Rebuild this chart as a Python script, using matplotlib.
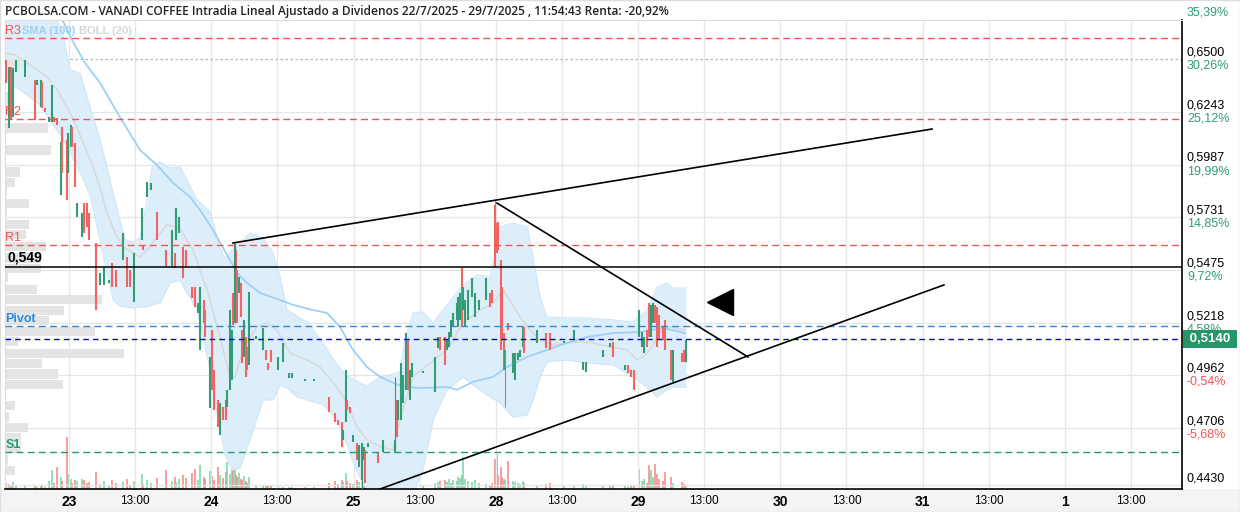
import matplotlib
matplotlib.use("Agg")
import matplotlib.pyplot as plt
from matplotlib.patches import Rectangle
import numpy as np

# ---- data (x = trading-session index, 1 = day 23) ----
candle_t = [
    0.556, 0.577, 0.592, 0.606, 0.627, 0.690, 0.761, 0.775, 0.803, 0.810,
    0.831, 0.859, 0.880, 0.894, 0.915, 0.944, 0.951, 0.986, 0.993, 1.014,
    1.021, 1.042, 1.056, 1.092, 1.106, 1.127, 1.141, 1.190, 1.218, 1.246,
    1.282, 1.303, 1.331, 1.380, 1.408, 1.430, 1.458, 1.514, 1.521, 1.549,
    1.577, 1.620, 1.683, 1.725, 1.746, 1.753, 1.775, 1.803, 1.824, 1.866,
    1.887, 1.908, 1.923, 1.951, 1.958, 1.993, 2.007, 2.021, 2.049, 2.063,
    2.084, 2.106, 2.113, 2.134, 2.148, 2.155, 2.169, 2.176, 2.183, 2.197,
    2.211, 2.218, 2.232, 2.246, 2.253, 2.268, 2.317, 2.366, 2.387, 2.401,
    2.422, 2.472, 2.507, 2.549, 2.570, 2.655, 2.725, 2.824, 2.866, 2.887,
    2.915, 2.922, 2.944, 2.951, 2.972, 2.993, 3.021, 3.035, 3.056, 3.070,
    3.077, 3.098, 3.169, 3.204, 3.289, 3.303, 3.310, 3.331, 3.345, 3.366,
    3.380, 3.394, 3.408, 3.486, 3.570, 3.591, 3.605, 3.641, 3.655, 3.669,
    3.683, 3.697, 3.725, 3.732, 3.746, 3.760, 3.767, 3.781, 3.803, 3.831,
    3.852, 3.880, 3.929, 3.958, 3.972, 3.993, 4.007, 4.014, 4.035, 4.042,
    4.056, 4.063, 4.084, 4.120, 4.134, 4.155, 4.169, 4.190, 4.197, 4.289,
    4.352, 4.380, 4.479, 4.549, 4.613, 4.634, 4.753, 4.803, 4.824, 4.908,
    4.930, 4.951, 4.972, 5.007, 5.028, 5.042, 5.063, 5.077, 5.092, 5.106,
    5.120, 5.134, 5.148, 5.176, 5.190, 5.232, 5.246, 5.310, 5.324, 5.338]

candle_open = [
    0.6495, 0.6165, 0.6461, 0.6218, 0.6437, 0.6413, 0.6398, 0.6374, 0.6267, 0.6388,
    0.6262, 0.6194, 0.6194, 0.6218, 0.6214, 0.5839, 0.6170, 0.6107, 0.5946, 0.6073,
    0.6170, 0.6092, 0.5732, 0.5635, 0.5800, 0.5800, 0.5752, 0.5606, 0.5402, 0.5402,
    0.5412, 0.5509, 0.5475, 0.5523, 0.5538, 0.5475, 0.5319, 0.5621, 0.5596, 0.5830,
    0.5864, 0.5757, 0.5572, 0.5489, 0.5557, 0.5621, 0.5655, 0.5587, 0.5572, 0.5392,
    0.5392, 0.5266, 0.5087, 0.5329, 0.5280, 0.4804, 0.5183, 0.4989, 0.4843, 0.4673,
    0.4809, 0.4843, 0.4809, 0.4892, 0.4940, 0.5363, 0.5217, 0.5572, 0.5475, 0.5363,
    0.5412, 0.5183, 0.5052, 0.5149, 0.5101, 0.5013, 0.5139, 0.5087, 0.5087, 0.5023,
    0.5087, 0.4989, 0.5028, 0.4950, 0.4950, 0.4935, 0.4935, 0.4858, 0.4780, 0.4746,
    0.4736, 0.4649, 0.4736, 0.4843, 0.4809, 0.4639, 0.4634, 0.4517, 0.4454, 0.4551,
    0.4600, 0.4615, 0.4585, 0.4590, 0.4590, 0.4843, 0.4746, 0.4746, 0.4828, 0.4892,
    0.5135, 0.4843, 0.4955, 0.4974, 0.4882, 0.5096, 0.5149, 0.5149, 0.5087, 0.5101,
    0.5149, 0.5197, 0.5232, 0.5197, 0.5232, 0.5489, 0.5280, 0.5197, 0.5232, 0.5344,
    0.5246, 0.5280, 0.5329, 0.5363, 0.5378, 0.5791, 0.5703, 0.5708, 0.5523, 0.5392,
    0.5169, 0.4989, 0.5217, 0.4974, 0.4940, 0.5037, 0.5052, 0.5101, 0.5197, 0.5120,
    0.5169, 0.5169, 0.5120, 0.5135, 0.4989, 0.4979, 0.5052, 0.5101, 0.5125, 0.4989,
    0.5013, 0.4989, 0.4989, 0.5149, 0.5101, 0.5071, 0.5183, 0.5314, 0.5149, 0.5217,
    0.5305, 0.5295, 0.5256, 0.5197, 0.5232, 0.5087, 0.4930, 0.5071, 0.5087, 0.5028]

candle_close = [
    0.6384, 0.6461, 0.6204, 0.6457, 0.6495, 0.6495, 0.6204, 0.6398, 0.6398, 0.6262,
    0.6243, 0.6218, 0.6374, 0.6194, 0.6179, 0.6097, 0.5946, 0.5815, 0.6141, 0.6179,
    0.6073, 0.5878, 0.5800, 0.5752, 0.5655, 0.5684, 0.5621, 0.5280, 0.5460, 0.5489,
    0.5426, 0.5392, 0.5392, 0.5655, 0.5392, 0.5392, 0.5557, 0.5776, 0.5572, 0.5902,
    0.5898, 0.5621, 0.5489, 0.5669, 0.5484, 0.5776, 0.5732, 0.5436, 0.5489, 0.5339,
    0.5295, 0.5314, 0.5392, 0.5217, 0.5149, 0.5052, 0.4892, 0.4794, 0.4710, 0.4828,
    0.4746, 0.4746, 0.4892, 0.5280, 0.5183, 0.5207, 0.5606, 0.5412, 0.5217, 0.5441,
    0.5246, 0.5023, 0.5232, 0.4955, 0.4989, 0.5368, 0.5154, 0.5193, 0.5037, 0.4989,
    0.5028, 0.5052, 0.5120, 0.4974, 0.4974, 0.4945, 0.4945, 0.4784, 0.4736, 0.4721,
    0.4615, 0.4697, 0.4989, 0.4794, 0.4780, 0.4673, 0.4551, 0.4624, 0.4634, 0.4615,
    0.4440, 0.4634, 0.4537, 0.4649, 0.4649, 0.4663, 0.4843, 0.5023, 0.4965, 0.5169,
    0.4892, 0.4989, 0.5023, 0.4984, 0.5052, 0.5149, 0.5087, 0.5013, 0.5135, 0.5173,
    0.5232, 0.5266, 0.5314, 0.5344, 0.5363, 0.5197, 0.5392, 0.5329, 0.5378, 0.5436,
    0.5363, 0.5329, 0.5436, 0.5295, 0.5314, 0.5489, 0.5557, 0.5572, 0.5087, 0.5135,
    0.4989, 0.5087, 0.5183, 0.5071, 0.5071, 0.5071, 0.5087, 0.5197, 0.5071, 0.5183,
    0.5096, 0.5087, 0.5130, 0.5183, 0.5028, 0.5028, 0.5087, 0.5120, 0.5052, 0.5013,
    0.4974, 0.4955, 0.4892, 0.5280, 0.5173, 0.5149, 0.5101, 0.5149, 0.5305, 0.5314,
    0.5217, 0.5101, 0.5135, 0.5135, 0.5087, 0.4940, 0.5087, 0.5028, 0.5028, 0.5135]

candle_vol = [
    6, 5, 4, 7, 3, 3, 3, 2, 4, 4,
    2, 8, 19, 6, 22, 12, 8, 52, 15, 10,
    6, 9, 8, 10, 9, 6, 7, 17, 5, 8,
    4, 9, 6, 7, 10, 4, 8, 15, 5, 9,
    6, 11, 19, 8, 12, 7, 10, 14, 11, 16,
    20, 9, 24, 12, 10, 18, 13, 9, 22, 14,
    11, 17, 27, 15, 20, 40, 22, 14, 12, 16,
    10, 9, 13, 8, 6, 12, 3, 4, 3, 3,
    3, 3, 2, 2, 2, 2, 2, 6, 8, 5,
    9, 7, 16, 8, 6, 5, 9, 7, 34, 10,
    8, 6, 5, 6, 8, 10, 7, 12, 9, 11,
    8, 6, 5, 4, 6, 7, 8, 9, 7, 10,
    6, 9, 8, 12, 11, 14, 32, 10, 8, 7,
    9, 6, 5, 4, 6, 30, 35, 14, 22, 12,
    10, 9, 28, 8, 7, 6, 5, 8, 6, 4,
    5, 6, 3, 4, 5, 3, 4, 3, 4, 3,
    2, 4, 3, 20, 8, 10, 6, 24, 19, 12,
    25, 15, 10, 8, 17, 12, 6, 7, 5, 4]

# a few visible wicks
wick_t = [2.169, 3.056, 3.289, 3.993, 4.063]
wick_lo = [0.5217, 0.4382, 0.4590, 0.5489, 0.4809]
wick_hi = [0.5606, 0.4634, 0.4955, 0.5815, 0.5087]

# Bollinger (20)
bb_t = [0.550, 0.656, 0.796, 0.902, 0.951, 1.007, 1.077, 1.148, 1.218, 1.267,
        1.309, 1.358, 1.394, 1.450, 1.499, 1.548, 1.583, 1.640, 1.710, 1.780,
        1.829, 1.900, 1.942, 1.991, 2.026, 2.061, 2.096, 2.145, 2.202, 2.272,
        2.363, 2.434, 2.483, 2.532, 2.602, 2.673, 2.785, 2.884, 2.954, 2.996,
        3.045, 3.094, 3.186, 3.256, 3.326, 3.361, 3.417, 3.488, 3.558, 3.656,
        3.769, 3.867, 3.959, 3.994, 4.029, 4.120, 4.219, 4.261, 4.310, 4.359,
        4.500, 4.640, 4.823, 4.963, 5.062, 5.132, 5.203, 5.245, 5.336]
bb_up = [0.6738, 0.6738, 0.6729, 0.6700, 0.6641, 0.6447, 0.6432, 0.6267, 0.6107, 0.5975,
         0.5849, 0.5718, 0.5621, 0.5611, 0.5630, 0.5815, 0.5975, 0.6000, 0.5971, 0.5975,
         0.5912, 0.5815, 0.5791, 0.5757, 0.5669, 0.5582, 0.5533, 0.5572, 0.5606, 0.5655,
         0.5630, 0.5557, 0.5441, 0.5280, 0.5251, 0.5222, 0.5120, 0.5013, 0.4960, 0.4945,
         0.4926, 0.4911, 0.4955, 0.4965, 0.4979, 0.5135, 0.5266, 0.5271, 0.5217, 0.5305,
         0.5402, 0.5451, 0.5441, 0.5548, 0.5684, 0.5703, 0.5684, 0.5538, 0.5344, 0.5246,
         0.5242, 0.5242, 0.5232, 0.5222, 0.5280, 0.5392, 0.5412, 0.5387, 0.5387]
bb_lo = [0.6398, 0.6350, 0.6277, 0.6165, 0.6121, 0.6048, 0.5951, 0.5839, 0.5621, 0.5460,
         0.5329, 0.5300, 0.5295, 0.5290, 0.5295, 0.5295, 0.5305, 0.5314, 0.5412, 0.5426,
         0.5363, 0.5280, 0.5149, 0.4989, 0.4828, 0.4712, 0.4576, 0.4503, 0.4512, 0.4649,
         0.4843, 0.4843, 0.4916, 0.4901, 0.4858, 0.4843, 0.4819, 0.4746, 0.4624, 0.4542,
         0.4464, 0.4406, 0.4357, 0.4357, 0.4357, 0.4357, 0.4381, 0.4503, 0.4746, 0.4892,
         0.4955, 0.4901, 0.4858, 0.4843, 0.4828, 0.4760, 0.4770, 0.4843, 0.4955, 0.5028,
         0.5037, 0.5023, 0.5013, 0.4955, 0.4906, 0.4858, 0.4892, 0.4906, 0.4906]
mid_t = [0.550, 0.621, 0.726, 0.845, 0.916, 0.986, 1.042, 1.112, 1.169, 1.218,
         1.267, 1.323, 1.379, 1.499, 1.569, 1.618, 1.689, 1.780, 1.871, 1.970,
         2.061, 2.131, 2.167, 2.223, 2.321, 2.391, 2.462, 2.553, 2.673, 2.764,
         2.883, 2.954, 3.024, 3.094, 3.186, 3.277, 3.326, 3.417, 3.537, 3.656,
         3.769, 3.888, 3.980, 4.050, 4.099, 4.169, 4.240, 4.310, 4.401, 4.500,
         4.591, 4.682, 4.802, 4.921, 4.992, 5.034, 5.083, 5.153, 5.224, 5.329]
mid_p = [0.6529, 0.6520, 0.6471, 0.6413, 0.6350, 0.6267, 0.6189, 0.6073, 0.5975, 0.5878,
         0.5752, 0.5655, 0.5587, 0.5538, 0.5587, 0.5635, 0.5694, 0.5679, 0.5572, 0.5378,
         0.5149, 0.4955, 0.4955, 0.5086, 0.5198, 0.5217, 0.5183, 0.5071, 0.5037, 0.5003,
         0.4906, 0.4828, 0.4712, 0.4649, 0.4615, 0.4600, 0.4746, 0.4955, 0.5023, 0.5086,
         0.5217, 0.5280, 0.5314, 0.5378, 0.5329, 0.5246, 0.5183, 0.5135, 0.5110, 0.5120,
         0.5125, 0.5120, 0.5101, 0.5086, 0.5037, 0.5052, 0.5086, 0.5173, 0.5198, 0.5183]

# SMA (100)
sma_t = [0.937, 1.021, 1.112, 1.218, 1.358, 1.499, 1.618, 1.731, 1.850, 1.921,
         2.012, 2.131, 2.181, 2.251, 2.342, 2.483, 2.574, 2.715, 2.813, 2.904,
         2.996, 3.094, 3.186, 3.347, 3.488, 3.656, 3.727, 3.839, 3.980, 4.078,
         4.219, 4.359, 4.500, 4.640, 4.823, 5.013, 5.174, 5.329]
sma_p = [0.6714, 0.6593, 0.6481, 0.6384, 0.6218, 0.6058, 0.5985, 0.5898, 0.5830, 0.5766,
         0.5669, 0.5523, 0.5460, 0.5412, 0.5363, 0.5329, 0.5305, 0.5280, 0.5266, 0.5198,
         0.5086, 0.5003, 0.4955, 0.4906, 0.4901, 0.4906, 0.4892, 0.4931, 0.4955, 0.5003,
         0.5052, 0.5086, 0.5120, 0.5149, 0.5168, 0.5173, 0.5193, 0.5168]

# volume by price (left profile)
prof_price = [0.6476, 0.6320, 0.6272, 0.6165, 0.6058, 0.5951, 0.5902, 0.5854, 0.5800, 0.5747,
              0.5698, 0.5645, 0.5591, 0.5533, 0.5484, 0.5436, 0.5382, 0.5329, 0.5280, 0.5227,
              0.5174, 0.5125, 0.5071, 0.5018, 0.4969, 0.4916, 0.4814, 0.4760, 0.4707, 0.4658,
              0.4605, 0.4551, 0.4498]
prof_vol = [15, 4, 3, 43, 46, 15, 10, 2, 24, 2,
            24, 21, 41, 36, 36, 3, 32, 97, 59, 44,
            90, 13, 119, 37, 53, 58, 10, 4, 23, 16,
            16, 3, 10]

# pivot levels
levels = {"R3": 0.6602, "R2": 0.6208, "R1": 0.5596, "Pivot": 0.5203, "S1": 0.4590}
level_colors = {"R3": "#f25454", "R2": "#f25454", "R1": "#f25454",
                "Pivot": "#2a8ae0", "S1": "#1f9e6c"}
last_price = 0.5140
mark_level = 0.549

# trend lines drawn by the user (start, end)
trend_lines = [((2.152, 0.5606), (7.065, 0.6160)),
               ((4.008, 0.5800), (5.772, 0.5052)),
               ((3.186, 0.4410), (7.149, 0.5402))]
arrow_pt = (5.575, 0.5319)

day_labels = ["23", "24", "25", "28", "29", "30", "31", "1"]
day_pos = [1, 2, 3, 4, 5, 6, 7, 8]
noon_off = 0.464

price_ticks = [0.6500, 0.6243, 0.5987, 0.5731, 0.5475, 0.5218, 0.4962, 0.4706, 0.4430]
pct_labels = ["30,26%", "25,12%", "19,99%", "14,85%", "9,72%", "4,58%", "-0,54%", "-5,68%"]
top_tick, top_pct = 0.6756, "35,39%"

title = ("PCBOLSA.COM - VANADI COFFEE Intradia Lineal Ajustado a Dividenos "
         "22/7/2025 - 29/7/2025 , 11:54:43 Renta: -20,92%")

# ---- figure ----
W, H = 1240, 512
fig = plt.figure(figsize=(W / 100, H / 100), dpi=100)
fig.patches.append(Rectangle((0, 0), 1, 23 / H, transform=fig.transFigure,
                             fc="#f4f4f4", ec="none", zorder=0))
fig.patches.append(Rectangle((0, 0), 1, 1, transform=fig.transFigure,
                             fill=False, ec="#dddddd", lw=1, zorder=0))

ax = fig.add_axes([5 / W, 1 - 489 / H, 1177 / W, 469 / H])
axv = ax.twinx()
axv.set_ylim(0, 469)
axv.axis("off")
ax.set_zorder(axv.get_zorder() + 1)
ax.patch.set_visible(False)

x0, x1 = 0.550, 8.822
ax.set_xlim(x0, x1)
ax.set_ylim(0.4410, 0.6690)

narrow = ["Liberation Sans Narrow", "Liberation Sans", "DejaVu Sans"]
arial = ["Liberation Sans", "DejaVu Sans"]

# grid
for d in day_pos:
    ax.axvline(d, color="#e6e6e6", lw=0.9, zorder=0)
    ax.axvline(d + noon_off, color="#e6e6e6", lw=0.9, zorder=0)
for p in price_ticks:
    if p == 0.65:
        ax.axhline(p, color="#b5b5b5", lw=0.9, ls=(0, (2, 2)), zorder=0)
    else:
        ax.axhline(p, color="#e6e6e6", lw=0.9, zorder=0)

# Bollinger band + SMA
ax.fill_between(bb_t, bb_lo, bb_up, color="#ddeefb", lw=0, zorder=1)
ax.plot(bb_t, bb_up, color="#cfe6f8", lw=0.8, zorder=1)
ax.plot(bb_t, bb_lo, color="#cfe6f8", lw=0.8, zorder=1)
ax.plot(mid_t, mid_p, color="#d9d9d9", lw=1.2, zorder=2)
ax.plot(sma_t, sma_p, color="#9dd0f5", lw=1.3, zorder=2)

# volume profile
ax.barh(prof_price, np.array(prof_vol) / 142.3, left=x0, height=0.0044,
        color="#e4e4e4", lw=0, zorder=2)

# candles
o = np.array(candle_open)
c = np.array(candle_close)
up = c >= o
lo = np.minimum(o, c)
hi = np.maximum(np.maximum(o, c), lo + 0.0006)
green, red = "#2f9e74", "#f26464"
cols = np.where(up, green, red)
ax.vlines(candle_t, lo, hi, colors=cols, lw=1.5, zorder=4)
wcols = [green if i in (0, 1, 2) else red for i in range(len(wick_t))]
ax.vlines(wick_t, wick_lo, wick_hi, colors=wcols, lw=0.8, zorder=4)

# volume
vcols = np.where(up, "#7fd8ad", "#f58f8f")
axv.vlines(candle_t, 0, candle_vol, colors=vcols, lw=1.2)

# levels
for name, p in levels.items():
    col = level_colors[name]
    ax.axhline(p, color=col, lw=1.0, dashes=(5, 3), zorder=5)
    ax.text(x0 + 0.003, p + 0.0006, name, color=col, fontsize=9, family=arial,
            fontweight="bold" if name in ("Pivot", "S1") else "normal",
            va="bottom", ha="left", zorder=7)
ax.axhline(last_price, color="#0000ee", lw=1.0, dashes=(4, 3), zorder=5)
ax.axhline(mark_level, color="black", lw=1.1, zorder=5)
ax.text(x0 + 0.015, mark_level + 0.0012, "0,549", color="black", fontsize=10,
        family=arial, fontweight="bold", va="bottom", ha="left", zorder=7)

# trend lines and arrow
for (ta, pa), (tb, pb) in trend_lines:
    ax.plot([ta, tb], [pa, pb], color="black", lw=1.2, zorder=6, clip_on=True)
ax.plot(*arrow_pt, marker="<", ms=19, color="black", zorder=6)

# legend text
ax.text(0.0144, 0.988, "SMA (100)", transform=ax.transAxes, color="#9dd0f5",
        fontsize=8, family=arial, fontweight="bold", va="top", zorder=7)
ax.text(0.0630, 0.988, "BOLL (20)", transform=ax.transAxes, color="#d6d6d6",
        fontsize=8, family=arial, fontweight="bold", va="top", zorder=7)

# right price axis labels
yt = ax.get_yaxis_transform()
for p in price_ticks:
    ax.text(1.0042, p + 0.0003, f"{p:.4f}".replace(".", ","), transform=yt,
            fontsize=9, family=narrow, va="bottom", ha="left", clip_on=False)
for p, lab in zip(price_ticks, pct_labels):
    ax.text(1.0042, p - 0.0002, lab, transform=yt, fontsize=9, family=narrow,
            color="#f25454" if lab.startswith("-") else "#2f9e74",
            va="top", ha="left", clip_on=False)
ax.text(1.0042, top_tick - 0.0002, top_pct, transform=yt, fontsize=9, family=narrow,
        color="#2f9e74", va="top", ha="left", clip_on=False)
ax.text(1.0035, last_price, " " + f"{last_price:.4f}".replace(".", ",") + " ",
        transform=yt, fontsize=9.5, fontweight="bold", color="white", va="center",
        ha="left", family=narrow, clip_on=False,
        bbox=dict(boxstyle="square,pad=0.22", fc="#27956a", ec="none"))

# x axis
ax.set_xticks(day_pos)
ax.set_xticklabels(day_labels, fontsize=10, fontweight="bold", family=narrow)
ax.set_xticks([d + noon_off for d in day_pos], minor=True)
ax.set_xticklabels(["13:00"] * len(day_pos), minor=True, fontsize=8.5, family=narrow)
ax.tick_params(axis="x", which="both", length=0, pad=4)
ax.set_yticks([])

for s in ("top", "left"):
    ax.spines[s].set_color("#dddddd")
    ax.spines[s].set_linewidth(0.8)
for s in ("right", "bottom"):
    ax.spines[s].set_color("black")
    ax.spines[s].set_linewidth(1.2)

fig.text(5 / W, 1 - 11 / H, title, fontsize=8.6, fontweight="semibold",
         family=["Open Sans", "DejaVu Sans"], va="center", ha="left", color="#222222")

fig.savefig("out.png", dpi=100, facecolor="white")
